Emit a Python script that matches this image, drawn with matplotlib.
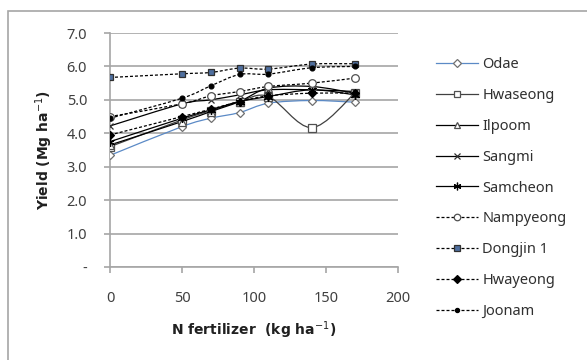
import matplotlib.pyplot as plt
import numpy as np
from matplotlib.path import Path
from matplotlib.patches import PathPatch, Rectangle
from matplotlib.lines import Line2D

# N rates and yields
n_rate = [0, 50, 70, 90, 110, 140, 170]
odae = [3.34, 4.20, 4.45, 4.62, 4.90, 4.98, 4.93]
hwaseong = [3.60, 4.40, 4.68, 4.95, 5.10, 4.17, 5.20]
ilpoom = [3.65, 4.35, 4.65, 4.95, 5.35, 5.40, 5.20]
sangmi = [4.22, 4.88, 5.00, 5.15, 5.30, 5.30, 5.25]
samcheon = [3.75, 4.45, 4.70, 4.95, 5.10, 5.30, 5.15]
nampyeong = [4.50, 4.88, 5.12, 5.25, 5.40, 5.50, 5.65]
dongjin = [5.67, 5.78, 5.82, 5.95, 5.92, 6.07, 6.08]
hwayeong = [3.95, 4.50, 4.72, 4.95, 5.12, 5.20, 5.20]
joonam = [4.45, 5.05, 5.42, 5.76, 5.77, 5.96, 6.00]

names = ['Odae', 'Hwaseong', 'Ilpoom', 'Sangmi', 'Samcheon',
         'Nampyeong', 'Dongjin 1', 'Hwayeong', 'Joonam']
series = [odae, hwaseong, ilpoom, sangmi, samcheon,
          nampyeong, dongjin, hwayeong, joonam]

ytick_vals = [0, 1, 2, 3, 4, 5, 6, 7]
ytick_labels = ['-', '1.0', '2.0', '3.0', '4.0', '5.0', '6.0', '7.0']
xtick_vals = [0, 50, 100, 150, 200]

plt.rcParams['font.family'] = ['Noto Sans', 'DejaVu Sans']

dash = (0, (2.4, 1.6))
asterisk = (6, 2, 0)
styles = [
    dict(color='#5b8ac6', ls='-', marker='D', ms=4.5, mfc='white', mec='#707070'),
    dict(color='#404040', ls='-', marker='s', ms=5.5, mfc='white', mec='#505050'),
    dict(color='black', ls='-', marker='^', ms=5.5, mfc='white', mec='#505050'),
    dict(color='black', ls='-', marker='x', ms=5, mfc='white', mec='#303030'),
    dict(color='black', ls='-', marker=asterisk, ms=6.5, mfc='black', mec='black'),
    dict(color='black', ls=dash, marker='o', ms=5.5, mfc='white', mec='#505050'),
    dict(color='black', ls=dash, marker='s', ms=4.5, mfc='#4f6f9f', mec='#303030'),
    dict(color='black', ls=dash, marker='D', ms=4.5, mfc='black', mec='black'),
    dict(color='black', ls=dash, marker='o', ms=3.5, mfc='black', mec='black'),
]


def smooth_path(x, y):
    # excel-like smoothed line: bezier segments through the points
    pts = np.column_stack([x, y]).astype(float)
    verts = [pts[0]]
    codes = [Path.MOVETO]
    n = len(pts)
    for i in range(n - 1):
        p0 = pts[max(i - 1, 0)]
        p1 = pts[i]
        p2 = pts[i + 1]
        p3 = pts[min(i + 2, n - 1)]
        c1 = p1 + (p2 - p0) / 6
        c2 = p2 - (p3 - p1) / 6
        verts += [c1, c2, p2]
        codes += [Path.CURVE4] * 3
    return Path(verts, codes)


fig = plt.figure(figsize=(5.87, 3.6), dpi=100)
ax = fig.add_axes([110 / 587, 1 - 267 / 360, 288 / 587, 234 / 360])

for y, st in zip(series, styles):
    patch = PathPatch(smooth_path(n_rate, y), fill=False, edgecolor=st['color'],
                      linestyle=st['ls'], linewidth=0.9, transform=ax.transData, zorder=3)
    ax.add_patch(patch)
for y, st in zip(series, styles):
    ax.plot(n_rate, y, linestyle='none', marker=st['marker'], ms=st['ms'],
            mfc=st['mfc'], mec=st['mec'], mew=0.9, zorder=4)

ax.set_xlim(0, 200)
ax.set_ylim(0, 7)
ax.set_xticks(xtick_vals)
ax.set_yticks(ytick_vals)
ax.set_yticklabels(ytick_labels)
ax.grid(axis='y', color='#a6a6a6', linewidth=1.2)
ax.set_axisbelow(True)
for s in ['top', 'right']:
    ax.spines[s].set_visible(False)
for s in ['left', 'bottom']:
    ax.spines[s].set_color('#a6a6a6')
    ax.spines[s].set_linewidth(1.2)
ax.tick_params(axis='y', length=4, color='#a6a6a6', width=1.2, pad=12.5,
               labelsize=10.5, labelcolor='#404040')
ax.tick_params(axis='x', length=4, color='#a6a6a6', width=1.2, pad=13,
               labelsize=10.5, labelcolor='#404040')

ax.set_xlabel('N fertilizer  (kg ha$^{-1}$)', fontsize=10, fontweight='bold',
              fontfamily='DejaVu Sans', color='#202020', labelpad=10)
ax.set_ylabel('Yield (Mg ha$^{-1}$)', fontsize=10, fontweight='bold',
              fontfamily='DejaVu Sans', color='#202020')
ax.yaxis.set_label_coords(-0.19, 0.5)

handles = [Line2D([], [], color=st['color'], linestyle=st['ls'], linewidth=0.9,
                  marker=st['marker'], ms=st['ms'] * 0.85, mfc=st['mfc'],
                  mec=st['mec'], mew=0.9) for st in styles]
leg = fig.legend(handles, names, loc='upper left', bbox_to_anchor=(436 / 587, 1 - 57 / 360),
                 frameon=False, fontsize=10.5, handlelength=2.9, handletextpad=0.27,
                 labelspacing=1.09, borderpad=0, borderaxespad=0)
for t in leg.get_texts():
    t.set_color('#303030')

fig.patches.append(Rectangle((8 / 587, -0.1), 1.2, 1.1 - 11 / 360,
                             transform=fig.transFigure, fill=False,
                             edgecolor='#a6a6a6', linewidth=1.2))

fig.savefig('out.png', dpi=100)
